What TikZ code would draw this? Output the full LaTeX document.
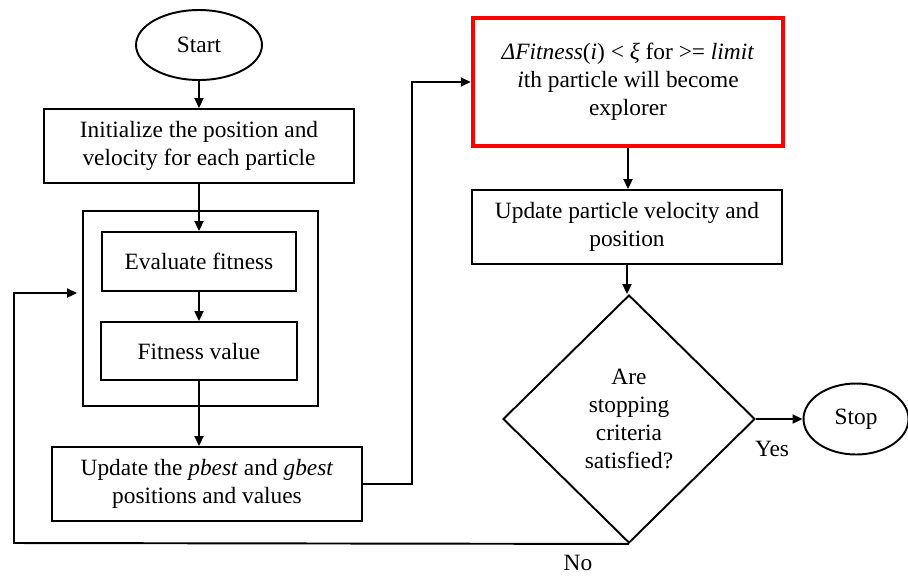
\documentclass[tikz,border=0pt]{standalone}
\usepackage{fontspec}
\setmainfont{Liberation Serif}
\usetikzlibrary{positioning, arrows.meta, shapes.geometric}

\begin{document}
\begin{tikzpicture}[
  x=0.02cm, y=-0.02cm,
  txt/.style={font=\fontsize{13.3}{15.9}\selectfont},
  box/.style={txt, draw, line width=1.1pt, rectangle, align=center, inner sep=0pt},
  term/.style={txt, draw, line width=1.1pt, ellipse, inner sep=0pt},
  arr/.style={line width=1.1pt, -{Triangle[length=0.2cm, width=0.18cm]}},
]
  \useasboundingbox (0,0) rectangle (908,576);

  % Left column
  \node[term, minimum width=2.52cm, minimum height=1.4cm] (start) at (199,45) {Start};
  \node[box, minimum width=6.2cm, minimum height=1.48cm] (init) at (199,146)
    {Initialize the position and\\ velocity for each particle};

  % Evaluation group
  \node[box, minimum width=4.7cm, minimum height=3.9cm] (group) at (200.5,308.5) {};
  \node[box, minimum width=3.88cm, minimum height=1.18cm] (eval) at (199,261.5) {Evaluate fitness};
  \node[box, minimum width=3.92cm, minimum height=1.16cm] (fitval) at (199,351) {Fitness value};

  \node[box, minimum width=6.2cm, minimum height=1.48cm] (update) at (207,484)
    {Update the \textit{pbest} and \textit{gbest}\\ positions and values};

  % Right column
  \node[box, draw=red, line width=2.6pt, minimum width=6.2cm, minimum height=2.56cm] (explore) at (628,82)
    {\textit{ΔFitness}(\textit{i}) < \textit{ξ} for >= \textit{limit}\\
     \textit{i}th particle will become\\ explorer};
  \node[box, minimum width=6.2cm, minimum height=1.48cm] (vel) at (627,227)
    {Update particle velocity and\\ position};
  \node[box, diamond, minimum width=5.04cm, minimum height=4.96cm] (check) at (629,419)
    {Are\\ stopping\\ criteria\\ satisfied?};
  \node[term, minimum width=2.1cm, minimum height=1.42cm] (stop) at (856,419) {Stop};

  % Labels
  \node[txt] (yes) at (772,449) {Yes};
  \node[txt] (no) at (578,563) {No};

  % Connectors
  \draw[arr] (start) -- (init);
  \draw[arr] (init.south) -- (init.south |- eval.north);
  \draw[arr] (eval) -- (fitval);
  \draw[arr] (fitval.south) -- (fitval.south |- update.north);
  \draw[arr] (update.east) -- ++(49,0) |- (explore.west);
  \draw[arr] (explore.south) -- (explore.south |- vel.north);
  \draw[arr] (vel.south) -- (vel.south |- check.north);
  \draw[arr] (check) -- (stop);

  % Loop back
  \coordinate (back) at (14,543);
  \draw[arr] (check.south) -- (back) |- ([xshift=-0.1cm, yshift=0.31cm]group.west);
\end{tikzpicture}
\end{document}
